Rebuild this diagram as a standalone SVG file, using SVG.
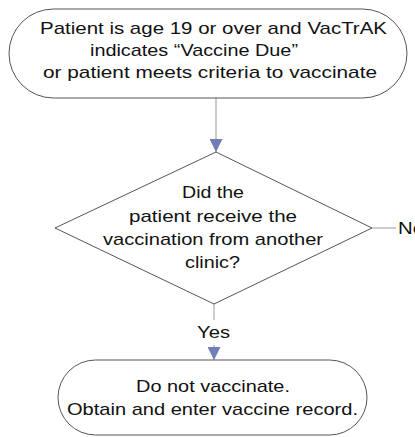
<svg xmlns="http://www.w3.org/2000/svg" width="415" height="437" viewBox="0 0 415 437">
<style>
.shape{fill:#ffffff;stroke:#555555;stroke-width:1}
.t{font-family:"Liberation Sans",Arial,sans-serif;font-size:17px;fill:#111111;text-anchor:start}
.conn{stroke:#999999;stroke-width:1;fill:none}
</style>
<defs>
<marker id="ah" markerWidth="13" markerHeight="13" refX="10" refY="5" orient="auto" markerUnits="userSpaceOnUse" viewBox="0 0 10 10">
<path d="M0,0 L10,5 L0,10 z" fill="#6f7fb5"/>
</marker>
</defs>
<rect width="415" height="437" fill="#ffffff"/>
<g id="connectors">
<line class="conn" x1="216" y1="98" x2="216" y2="152" marker-end="url(#ah)"/>
<line class="conn" x1="372" y1="228" x2="396" y2="228" stroke="#b79aa8"/>
<line class="conn" x1="214" y1="304" x2="214" y2="320"/>
<line class="conn" x1="214" y1="345" x2="214" y2="360" marker-end="url(#ah)"/>
</g>
<g id="start">
<rect class="shape" x="9" y="9" width="398" height="89" rx="44.5" ry="44.5"/>
<text class="t" x="40" y="34" textLength="347" lengthAdjust="spacingAndGlyphs">Patient is age 19 or over and VacTrAK</text>
<text class="t" x="90" y="56" textLength="208" lengthAdjust="spacingAndGlyphs">indicates “Vaccine Due”</text>
<text class="t" x="43" y="78" textLength="334" lengthAdjust="spacingAndGlyphs">or patient meets criteria to vaccinate</text>
</g>
<g id="decision">
<polygon class="shape" points="216,152 372,228 214,304 55,228"/>
<text class="t" x="182" y="198" textLength="62" lengthAdjust="spacingAndGlyphs">Did the</text>
<text class="t" x="129" y="222" textLength="168" lengthAdjust="spacingAndGlyphs">patient receive the</text>
<text class="t" x="103" y="245" textLength="220" lengthAdjust="spacingAndGlyphs">vaccination from another</text>
<text class="t" x="185" y="268" textLength="55" lengthAdjust="spacingAndGlyphs">clinic?</text>
</g>
<g id="no-label">
<text class="t" x="398" y="234" textLength="26" lengthAdjust="spacingAndGlyphs">No</text>
</g>
<g id="yes-label">
<text class="t" x="197" y="338" textLength="33" lengthAdjust="spacingAndGlyphs">Yes</text>
</g>
<g id="end">
<rect class="shape" x="58" y="360" width="309" height="75" rx="37.5" ry="37.5"/>
<text class="t" x="136" y="392" textLength="154" lengthAdjust="spacingAndGlyphs">Do not vaccinate.</text>
<text class="t" x="67" y="415" textLength="291" lengthAdjust="spacingAndGlyphs">Obtain and enter vaccine record.</text>
</g>
</svg>
